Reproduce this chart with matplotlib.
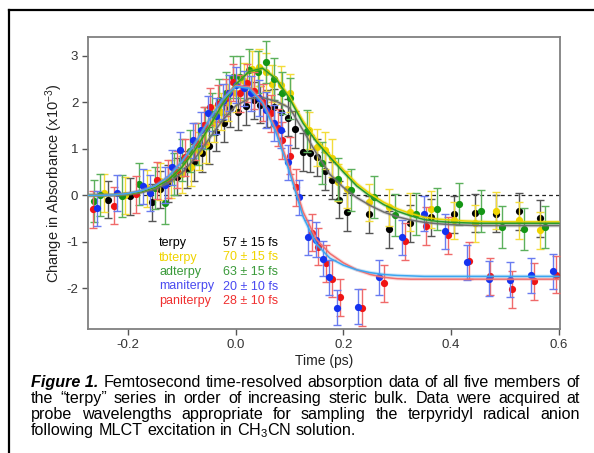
import matplotlib
matplotlib.use('Agg')
import matplotlib.pyplot as plt
from matplotlib.lines import Line2D

plt.rcParams['font.family'] = ['Liberation Sans', 'DejaVu Sans']
plt.rcParams['mathtext.fontset'] = 'custom'
plt.rcParams['mathtext.rm'] = 'Liberation Sans'
plt.rcParams['mathtext.it'] = 'Liberation Sans:italic'
plt.rcParams['mathtext.bf'] = 'Liberation Sans:bold'

# ---- data (time in ps, change in absorbance x1e-3) ----
t_terpy = [-0.237, -0.196, -0.155, -0.140, -0.125, -0.108, -0.090, -0.077, -0.062, -0.050,
           -0.037, -0.022, -0.011, 0.004, 0.019, 0.034, 0.046, 0.058, 0.071, 0.084,
           0.097, 0.110, 0.125, 0.138, 0.151, 0.165, 0.179, 0.191, 0.206, 0.247,
           0.284, 0.323, 0.362, 0.405, 0.445, 0.484, 0.525, 0.564]
v_terpy = [-0.09, -0.02, -0.15, 0.13, 0.26, 0.40, 0.56, 0.71, 0.90, 1.07,
           1.35, 1.55, 1.87, 1.80, 1.91, 2.04, 1.95, 1.87, 1.89, 1.78,
           1.67, 1.42, 0.93, 0.90, 0.82, 0.52, 0.32, -0.09, -0.36, -0.41,
           -0.73, -0.60, -0.47, -0.41, -0.38, -0.39, -0.34, -0.49]

t_tbterpy = [-0.245, -0.205, -0.165, -0.140, -0.120, -0.100, -0.082, -0.068, -0.055, -0.040,
             -0.027, -0.015, 0.000, 0.015, 0.030, 0.043, 0.056, 0.068, 0.084, 0.100,
             0.137, 0.151, 0.165, 0.178, 0.190, 0.206, 0.247, 0.284, 0.323, 0.362,
             0.405, 0.445, 0.484, 0.525, 0.564]
v_tbterpy = [0.05, 0.00, 0.15, 0.30, 0.35, 0.45, 0.60, 0.95, 1.10, 1.55,
             1.80, 2.00, 2.20, 2.45, 2.71, 2.75, 2.65, 2.40, 2.37, 2.20,
             1.40, 1.03, 0.97, 0.80, 0.28, 0.13, -0.15, -0.26, -0.36, -0.30,
             -0.54, -0.60, -0.33, -0.54, -0.75]

t_adterpy = [-0.263, -0.252, -0.211, -0.180, -0.150, -0.131, -0.115, -0.100, -0.085, -0.070,
             -0.057, -0.043, -0.030, -0.017, -0.004, 0.009, 0.024, 0.041, 0.056, 0.071,
             0.086, 0.100, 0.133, 0.160, 0.190, 0.215, 0.256, 0.295, 0.335, 0.374,
             0.415, 0.455, 0.494, 0.535, 0.574]
v_adterpy = [-0.12, 0.00, -0.02, 0.25, 0.15, -0.17, 0.45, 0.75, 0.95, 1.10,
             1.45, 1.75, 2.05, 2.20, 2.54, 2.54, 2.69, 2.65, 2.86, 2.50,
             2.19, 2.08, 1.38, 0.70, 0.35, 0.11, -0.04, -0.43, -0.40, -0.29,
             -0.18, -0.34, -0.67, -0.72, -0.68]

t_maniterpy = [-0.258, -0.220, -0.172, -0.159, -0.131, -0.118, -0.103, -0.080, -0.065, -0.052,
               -0.037, -0.024, -0.013, 0.000, 0.015, 0.028, 0.043, 0.056, 0.071, 0.084,
               0.097, 0.118, 0.135, 0.150, 0.162, 0.174, 0.189, 0.228, 0.267, 0.308,
               0.350, 0.388, 0.430, 0.471, 0.509, 0.548, 0.589]
v_maniterpy = [-0.28, 0.05, 0.19, 0.05, 0.22, 0.60, 0.97, 1.18, 1.40, 1.76,
               1.70, 2.02, 2.20, 2.37, 2.30, 2.19, 2.09, 1.83, 1.55, 1.40,
               0.71, -0.04, -0.90, -0.95, -1.36, -1.76, -2.41, -2.39, -1.76, -0.90,
               -0.39, -0.77, -1.44, -1.79, -1.81, -1.72, -1.63]

t_paniterpy = [-0.265, -0.226, -0.185, -0.146, -0.125, -0.108, -0.094, -0.075, -0.058, -0.047,
               -0.032, -0.018, -0.005, 0.009, 0.022, 0.035, 0.050, 0.065, 0.078, 0.086,
               0.100, 0.112, 0.142, 0.153, 0.168, 0.179, 0.194, 0.234, 0.275, 0.314,
               0.353, 0.394, 0.433, 0.473, 0.512, 0.553, 0.594]
v_paniterpy = [-0.30, -0.22, 0.02, 0.32, 0.35, 0.55, 0.82, 1.15, 1.50, 1.90,
               1.97, 2.10, 2.43, 2.19, 2.41, 2.25, 2.00, 1.76, 1.45, 1.18,
               0.85, 0.17, -0.80, -1.10, -1.46, -1.79, -2.19, -2.41, -1.89, -0.99,
               -0.66, -0.86, -1.40, -1.74, -2.02, -1.85, -1.70]

err_terpy, err_tbterpy, err_adterpy, err_maniterpy, err_paniterpy = 0.40, 0.40, 0.45, 0.38, 0.40

# fitted curves, sampled
t_fit = [-0.275, -0.25, -0.225, -0.2, -0.175, -0.15, -0.125, -0.1, -0.075, -0.05,
         -0.025, 0.0, 0.025, 0.05, 0.075, 0.1, 0.125, 0.15, 0.175, 0.2,
         0.225, 0.25, 0.275, 0.3, 0.325, 0.35, 0.375, 0.4, 0.425, 0.45,
         0.475, 0.5, 0.525, 0.55, 0.575, 0.6]
fit_terpy = [0.0, 0.0, 0.0, 0.02, 0.06, 0.13, 0.26, 0.48, 0.80, 1.20,
             1.60, 1.92, 2.08, 2.10, 2.02, 1.88, 1.40, 0.90, 0.45, 0.17,
             -0.05, -0.22, -0.36, -0.46, -0.53, -0.58, -0.61, -0.63, -0.64, -0.65,
             -0.65, -0.65, -0.65, -0.65, -0.65, -0.65]
fit_tbterpy = [0.0, 0.0, 0.01, 0.03, 0.08, 0.17, 0.33, 0.60, 0.98, 1.45,
               1.95, 2.38, 2.66, 2.73, 2.52, 2.12, 1.60, 1.20, 0.87, 0.55,
               0.25, 0.03, -0.15, -0.29, -0.39, -0.47, -0.51, -0.53, -0.55, -0.56,
               -0.57, -0.57, -0.57, -0.57, -0.57, -0.57]
fit_adterpy = [0.0, 0.0, 0.01, 0.03, 0.08, 0.17, 0.33, 0.60, 0.98, 1.45,
               1.95, 2.38, 2.66, 2.73, 2.50, 2.08, 1.55, 1.15, 0.82, 0.50,
               0.20, -0.02, -0.20, -0.34, -0.44, -0.52, -0.56, -0.58, -0.59, -0.60,
               -0.60, -0.60, -0.60, -0.60, -0.60, -0.60]
fit_maniterpy = [0.0, 0.0, 0.01, 0.04, 0.10, 0.20, 0.40, 0.72, 1.12, 1.60,
                 2.05, 2.34, 2.30, 1.98, 1.35, 0.50, -0.45, -1.05, -1.35, -1.50,
                 -1.60, -1.66, -1.70, -1.72, -1.73, -1.74, -1.74, -1.74, -1.74, -1.74,
                 -1.74, -1.74, -1.74, -1.74, -1.74, -1.74]
fit_paniterpy = [0.0, 0.0, 0.01, 0.04, 0.10, 0.20, 0.40, 0.72, 1.12, 1.60,
                 2.05, 2.36, 2.33, 2.02, 1.42, 0.58, -0.35, -0.95, -1.25, -1.45,
                 -1.60, -1.70, -1.76, -1.79, -1.80, -1.80, -1.80, -1.80, -1.80, -1.80,
                 -1.80, -1.80, -1.80, -1.80, -1.80, -1.80]

names = ['terpy', 'tbterpy', 'adterpy', 'maniterpy', 'paniterpy']
lifetimes = ['57 \u00b1 15 fs', '70 \u00b1 15 fs', '63 \u00b1 15 fs', '20 \u00b1 10 fs', '28 \u00b1 10 fs']

W, H = 594, 453
fig = plt.figure(figsize=(W / 100, H / 100), dpi=100)
ax = fig.add_axes([88 / W, 1 - 329 / H, (560 - 88) / W, (329 - 37) / H])

series = [
    (t_terpy, v_terpy, err_terpy, 'black', '#555555', fit_terpy, '#6e6e6e'),
    (t_tbterpy, v_tbterpy, err_tbterpy, '#f0d400', '#f3dc3a', fit_tbterpy, '#e8d400'),
    (t_adterpy, v_adterpy, err_adterpy, '#149614', '#5cb05c', fit_adterpy, '#2a9a2a'),
    (t_paniterpy, v_paniterpy, err_paniterpy, '#f01414', '#f06a6a', fit_paniterpy, '#f07070'),
    (t_maniterpy, v_maniterpy, err_maniterpy, '#1432f0', '#6a7cf0', fit_maniterpy, '#3ca6f0'),
]

ax.axhline(0, color='#222222', ls=(0, (3, 2.5)), lw=0.9, zorder=1)
for i, (t, v, e, c, ec, fit, fc) in enumerate(series):
    ax.errorbar(t, v, yerr=e, fmt='none', ecolor=ec, elinewidth=1.0,
                capsize=2.6, capthick=1.0, zorder=3 + i)
    ax.plot(t, v, 'o', ms=5.2, mfc=c, mec=c, mew=0, ls='none', zorder=3.5 + i)
for i, (t, v, e, c, ec, fit, fc) in enumerate(series):
    ax.plot(t_fit, fit, color=fc, lw=2.6, alpha=0.25, zorder=9, solid_capstyle='butt')
    ax.plot(t_fit, fit, color=fc, lw=1.1, zorder=10)

ax.set_xlim(-0.274, 0.602)
ax.set_ylim(-2.87, 3.40)
ax.set_xticks([-0.2, 0.0, 0.2, 0.4, 0.6])
ax.set_xticklabels(['-0.2', '0.0', '0.2', '0.4', '0.6'])
ax.set_yticks([-2, -1, 0, 1, 2, 3])
ax.set_yticklabels(['-2', '-1', '0', '1', '2', '3'])
ax.tick_params(direction='out', length=4, width=1, colors='#555555', labelcolor='#333333',
               labelsize=9.5, pad=3)
for s in ax.spines.values():
    s.set_color('#808080')
    s.set_linewidth(1.3)
ax.set_xlabel('Time (ps)', fontsize=10, color='#222222', labelpad=2)
ax.set_ylabel('Change in Absorbance (x10$^{-3}$)', fontsize=10.5, color='#222222', labelpad=1)

# in-plot legend
leg_cols = ['black', '#f0d400', '#3a9a3a', '#4a4af0', '#f03030']
for k, (nm, lt, c) in enumerate(zip(names, lifetimes, leg_cols)):
    yy = 1 - (243 + 14.5 * k) / H
    fig.text(159 / W, yy, nm, color=c, fontsize=9, va='center', ha='left')
    fig.text(223 / W, yy, lt, color=c, fontsize=9, va='center', ha='left')

# outer frame
fig.add_artist(Line2D([9 / W, 9 / W], [0, 1 - 10 / H], color='black', lw=1.6))
fig.add_artist(Line2D([9 / W, 1], [1 - 10 / H, 1 - 10 / H], color='black', lw=1.6))

# caption, justified
cap_lines = [
    [('Figure 1.', 'bi'), 'Femtosecond', 'time-resolved', 'absorption', 'data', 'of', 'all',
     'five', 'members', 'of'],
    ['the', '\u201cterpy\u201d', 'series', 'in', 'order', 'of', 'increasing', 'steric', 'bulk.',
     'Data', 'were', 'acquired', 'at'],
    ['probe', 'wavelengths', 'appropriate', 'for', 'sampling', 'the', 'terpyridyl', 'radical',
     'anion'],
    ['following', 'MLCT', 'excitation', 'in', 'CH$_3$CN', 'solution.'],
]
cap_base = [387, 403, 419, 435]
x_left, x_right = 31, 580
cap_size = 11.6

fig.canvas.draw()
rend = fig.canvas.get_renderer()
t1 = fig.text(0, 0, 'a a', fontsize=cap_size)
t2 = fig.text(0, 0, 'aa', fontsize=cap_size)
space_w = t1.get_window_extent(rend).width - t2.get_window_extent(rend).width
t1.remove()
t2.remove()

for li, words in enumerate(cap_lines):
    arts = []
    for w in words:
        if isinstance(w, tuple):
            a = fig.text(0, 0, w[0], fontsize=cap_size, fontweight='bold', fontstyle='italic',
                         va='baseline', ha='left', color='black')
        else:
            a = fig.text(0, 0, w, fontsize=cap_size, va='baseline', ha='left', color='black')
        arts.append(a)
    widths = [a.get_window_extent(rend).width for a in arts]
    if li < len(cap_lines) - 1:
        gap = (x_right - x_left - sum(widths)) / (len(arts) - 1)
    else:
        gap = space_w
    x = x_left
    for a, wd in zip(arts, widths):
        a.set_position((x / W, 1 - cap_base[li] / H))
        x += wd + gap

fig.savefig('out.png', dpi=100)
